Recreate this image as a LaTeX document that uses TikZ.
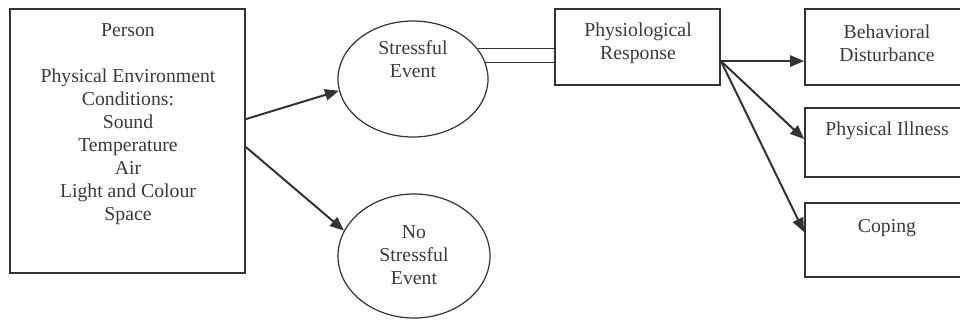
\documentclass[tikz,border=0pt]{standalone}
\usepackage{fontspec}
\setmainfont{Liberation Serif}
\usetikzlibrary{arrows.meta,calc,shapes.geometric}
\definecolor{ink}{HTML}{333333}
\definecolor{txtc}{HTML}{3A3A40}
\tikzset{
  box/.style={draw=ink, line width=1.4pt, rectangle, inner sep=0pt},
  oval/.style={draw=ink, line width=0.9pt, ellipse, inner sep=0pt},
  txt/.style={text=txtc, align=center, inner sep=0pt, font=\fontsize{14.8pt}{17.25pt}\selectfont},
  arr/.style={draw=ink, line width=1.5pt, -{Triangle[length=10.5pt,width=8.5pt]}},
  pair/.style={draw=ink, line width=1pt}
}
\begin{document}
\begin{tikzpicture}[x=0.75pt,y=-0.75pt]
\useasboundingbox (0,0) rectangle (960,325);
\clip (0,0) rectangle (960,325);
\fill[white] (0,0) rectangle (960,325);
% boxes
\node[box, minimum width=235*0.75pt, minimum height=264*0.75pt] (person) at (127.5,141) {};
\node[box, minimum width=165*0.75pt, minimum height=76*0.75pt] (phys) at (637.5,47) {};
\node[box, minimum width=170*0.75pt, minimum height=76*0.75pt] (behav) at (890,47) {};
\node[box, minimum width=170*0.75pt, minimum height=69*0.75pt] (ill) at (890,142.5) {};
\node[box, minimum width=170*0.75pt, minimum height=74*0.75pt] (cop) at (890,240) {};
% ellipses
\node[oval, minimum width=150*0.75pt, minimum height=116*0.75pt] (stress) at (413,79) {};
\node[oval, minimum width=152*0.75pt, minimum height=124*0.75pt] (nostress) at (414,256) {};
% texts
\node[txt] at (128,124) {Person\\[17.25pt]Physical Environment\\Conditions:\\Sound\\Temperature\\Air\\Light and Colour\\Space};
\node[txt] at (413,59) {Stressful\\Event};
\node[txt] at (414,255) {No\\Stressful\\Event};
\node[txt] at (638,43.5) {Physiological\\Response};
\node[txt] at (887,43.5) {Behavioral\\Disturbance};
\node[txt] at (887,131) {Physical Illness};
\node[txt] at (887,228) {Coping};
% connectors
\coordinate (p1) at ($(person.north east)+(0,111)$);
\coordinate (p2) at ($(person.north east)+(0,139)$);
\draw[arr] (p1) -- (stress.189);
\draw[arr] (p2) -- (nostress.160);
\draw[pair] (stress.25) -- (stress.25 -| phys.west);
\draw[pair] (stress.13) -- (stress.13 -| phys.west);
\coordinate (r0) at ($(phys.north east)+(0,53)$);
\draw[arr] (r0) -- (r0 -| behav.west);
\draw[arr] (r0) -- ($(ill.north west)+(0,32)$);
\draw[arr] (r0) -- ($(cop.north west)+(0,30)$);
\end{tikzpicture}
\end{document}
